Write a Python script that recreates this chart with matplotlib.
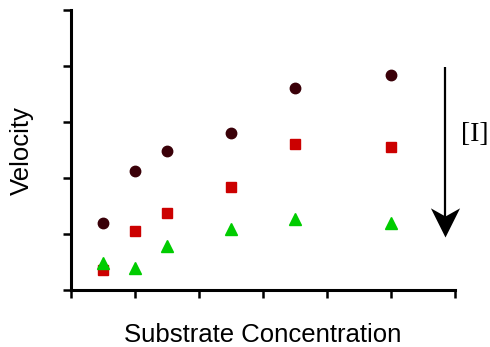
import matplotlib
matplotlib.use("Agg")
import matplotlib.pyplot as plt
from matplotlib.path import Path

substrate = [0.5, 1.0, 1.5, 2.5, 3.5, 5.0]
velocity_none = [1.2, 2.12, 2.48, 2.8, 3.6, 3.84]
velocity_low = [0.36, 1.05, 1.38, 1.84, 2.6, 2.56]
velocity_high = [0.48, 0.39, 0.79, 1.09, 1.27, 1.2]

plt.rcParams['font.family'] = ['Liberation Sans', 'DejaVu Sans']

fig = plt.figure(figsize=(4.9, 3.47), dpi=100)
ax = fig.add_axes([0.145, 0.164, 0.784, 0.807])

ax.plot(substrate, velocity_none, 'o', color='#3a0008', markersize=7.5, linestyle='none')
ax.plot(substrate, velocity_low, 's', color='#cc0000', markersize=7.5, linestyle='none')
ax.plot(substrate, velocity_high, '^', color='#00cc00', markersize=8.5, linestyle='none')

ax.set_xlim(0, 6)
ax.set_ylim(0, 5)
ax.set_xticks(range(0, 7))
ax.set_yticks(range(0, 6))
ax.set_xticklabels([])
ax.set_yticklabels([])
ax.tick_params(direction='out', length=6, width=1.8)
for s in ['top', 'right']:
    ax.spines[s].set_visible(False)
for s in ['left', 'bottom']:
    ax.spines[s].set_linewidth(2.2)

ax.set_xlabel('Substrate Concentration', fontsize=18.5, labelpad=14)
ax.set_ylabel('Velocity', fontsize=18.5, labelpad=17)

# inhibitor arrow: shaft plus concave arrowhead
arrow_x = 5.84
arrow_top = 3.98
arrow_tip = 0.95
ax.plot([arrow_x, arrow_x], [arrow_top, arrow_tip + 0.2], color='black', lw=1.6,
        solid_capstyle='butt', clip_on=False)
head = Path([(0, 0), (-0.5, 1.0), (0, 0.72), (0.5, 1.0), (0, 0)],
            [Path.MOVETO, Path.LINETO, Path.LINETO, Path.LINETO, Path.CLOSEPOLY])
ax.plot([arrow_x], [arrow_tip], marker=head, markersize=42, color='black',
        markeredgewidth=0, linestyle='none', clip_on=False)
ax.text(6.3, 2.78, '[I]', fontsize=20, family=['Liberation Serif', 'DejaVu Serif'],
        ha='center', va='center', clip_on=False)

fig.savefig('out.png', dpi=100)
